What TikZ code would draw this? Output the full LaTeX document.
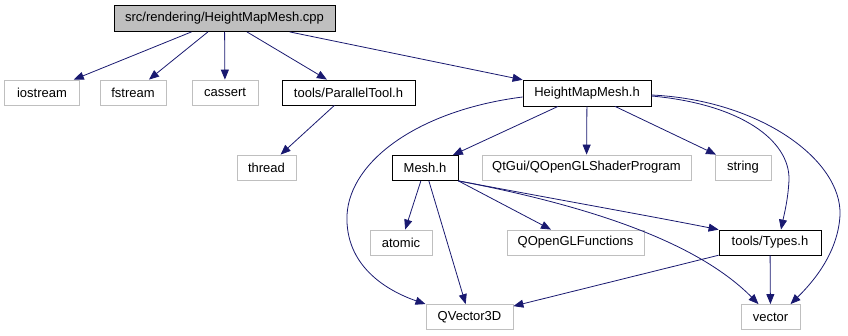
\documentclass[tikz,border=0pt]{standalone}
\usepackage{fontspec}
\setmainfont{Liberation Sans}
\usetikzlibrary{arrows.meta}

\definecolor{edgeblue}{HTML}{191970}
\definecolor{boxgray}{HTML}{BFBFBF}

\begin{document}
\begin{tikzpicture}[x=1pt, y=-1pt, line width=0.8pt,
  box/.style={draw=black, rectangle, inner sep=0pt, minimum height=25pt,
    font=\fontsize{13}{15}\selectfont},
  ext/.style={box, draw=boxgray},
  dep/.style={draw=edgeblue, -{Triangle[length=10pt, width=8pt]}}]

\useasboundingbox (0,0) rectangle (848,336);

% The file itself
\node[box, fill=boxgray, minimum width=221pt, minimum height=26pt] (root) at (224.5,18.5) {src/rendering/HeightMapMesh.cpp};

% First row of includes
\node[ext, minimum width=75pt]  (iostream) at (42,92.5)  {iostream};
\node[ext, minimum width=66pt]  (fstream)  at (133,92.5) {fstream};
\node[ext, minimum width=66pt]  (cassert)  at (225,92.5) {cassert};
\node[box, minimum width=133pt] (paralleltool) at (348.5,92.5) {tools/ParallelTool.h};
\node[box, minimum width=128pt, minimum height=26pt] (heightmaph) at (587,93) {HeightMapMesh.h};

% Second row
\node[ext, minimum width=59pt]  (thread)     at (266.5,167.5) {thread};
\node[box, minimum width=66pt]  (meshh)      at (425,168)     {Mesh.h};
\node[ext, minimum width=209pt] (shaderprog) at (586.5,167.5) {QtGui/QOpenGLShaderProgram};
\node[ext, minimum width=56pt]  (string)     at (743,167.5)   {string};

% Third row
\node[ext, minimum width=62pt]  (atomic)  at (401,242.5)   {atomic};
\node[ext, minimum width=137pt] (glfuncs) at (575.5,242.5) {QOpenGLFunctions};
\node[box, minimum width=102pt] (typesh)  at (770,242.5)   {tools/Types.h};

% Bottom row
\node[ext, minimum width=87pt] (qvector) at (469.5,317) {QVector3D};
\node[ext, minimum width=59pt] (vector)  at (770.5,317) {vector};

% Straight include edges
\foreach \a/\b in {root/iostream, root/fstream, root/cassert, root/paralleltool,
    root/heightmaph, paralleltool/thread, heightmaph/meshh, heightmaph/shaderprog,
    heightmaph/string, meshh/atomic, meshh/qvector, typesh/qvector, typesh/vector} {
  \draw[dep] (\a) -- (\b);
}
\draw[dep] (meshh.south east) -- (glfuncs);

% Curved edges
\draw[dep] (meshh.south east) .. controls (560,200) and (650,216) .. (typesh.north west);
\draw[dep] (meshh.south east) .. controls (600,208) and (700,245) .. ([xshift=-12pt]vector.north);
\draw[dep] ([yshift=-4pt]heightmaph.west) .. controls (420,110) and (350,160) .. (347,215)
  .. controls (345,265) and (385,290) .. ([xshift=-44pt]qvector.north);
\draw[dep] ([yshift=-3pt]heightmaph.east) .. controls (740,104) and (790,140) .. (789,180)
  .. controls (788,200) and (784,215) .. ([xshift=11pt]typesh.north);
\draw[dep] ([yshift=-2pt]heightmaph.east) .. controls (760,100) and (842,160) .. (840,215)
  .. controls (838,255) and (810,285) .. ([xshift=20pt]vector.north);

\end{tikzpicture}
\end{document}
